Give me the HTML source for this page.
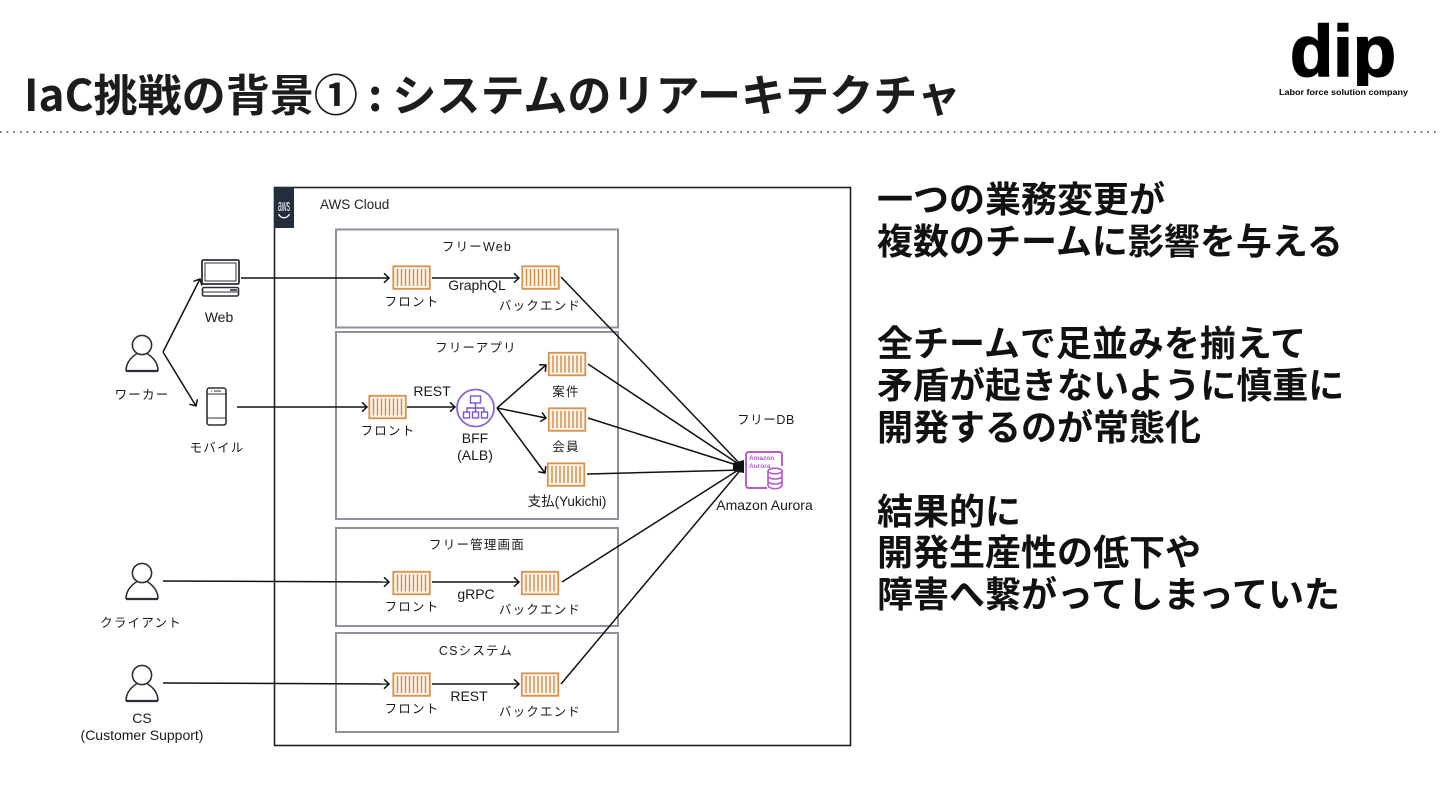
<!DOCTYPE html>
<html lang="ja"><head><meta charset="utf-8"><title>IaC挑戦の背景</title>
<style>
html,body{margin:0;padding:0;background:#fff;width:1440px;height:810px;overflow:hidden}
svg{display:block}
text{font-family:"Liberation Sans","Noto Sans CJK JP",sans-serif;fill:#1a1a1a}
.h{font-family:"Noto Sans CJK JP",sans-serif;font-weight:700;fill:#1c1c1c}
.b{font-family:"Noto Sans CJK JP",sans-serif;font-weight:700;font-size:36px;fill:#111}
.l{font-size:14px;text-anchor:middle}
.j{font-size:12.5px;text-anchor:middle;letter-spacing:1.2px;font-family:"Liberation Sans","Noto Sans CJK JP",sans-serif}
.ln{stroke:#111;stroke-width:1.5;fill:none}
.box{fill:#fff;stroke:#8e929b;stroke-width:2}
.ic{fill:none;stroke:#2b2f36;stroke-width:1.6}
.soft{filter:blur(.3px)}
</style></head><body>
<svg width="1440" height="810" viewBox="0 0 1440 810" xmlns="http://www.w3.org/2000/svg">
<defs>
<g id="c">
<rect x="0.8" y="0.8" width="36.5" height="22.5" fill="#fdf4e8" stroke="#d8924f" stroke-width="1.8"/>
<path d="M5 3.500V20.500M9 3.500V20.500M13 3.500V20.500M17 3.500V20.500M21 3.500V20.500M25 3.500V20.500M29 3.500V20.500M33 3.500V20.500" stroke="#d08a4a" stroke-width="1.400"/>
</g>
<g id="p">
<circle cx="0" cy="-17" r="9.600" class="ic"/>
<path d="M-16 9C-16 -1 -9 -6 -5 -8.500M5 -8.500C9 -6 16 -1 16 9" class="ic"/>
<path d="M-16 9H16" stroke="#2b2f36" stroke-width="2.200"/>
</g>
<marker id="a" markerWidth="11" markerHeight="11" refX="8.500" refY="5.500" orient="auto" markerUnits="userSpaceOnUse">
<path d="M3.500 0.800L8.500 5.500L3.500 10.200" fill="none" stroke="#111" stroke-width="1.500"/>
</marker>
<clipPath id="dipclip"><rect x="1280" y="10" width="130" height="76"/></clipPath>
</defs>

<text class="h" x="24" y="111" font-size="44" textLength="937" lengthAdjust="spacingAndGlyphs">IaC挑戦の背景① : システムのリアーキテクチャ</text>
<line x1="0" y1="132" x2="1440" y2="132" stroke="#444" stroke-width="1.6" stroke-dasharray="1.600 5.070"/>

<g clip-path="url(#dipclip)">
<text x="1290" y="76" font-size="72" font-weight="700" stroke="#000" stroke-width="1.500" textLength="106" lengthAdjust="spacingAndGlyphs" style="fill:#000">dip</text>
</g>
<text x="1279" y="95" font-size="8.300" font-weight="700" textLength="129" lengthAdjust="spacingAndGlyphs" style="fill:#000">Labor force solution company</text>

<g class="soft">
<!-- cloud -->
<rect x="274.500" y="187.500" width="576" height="558" fill="#fff" stroke="#222" stroke-width="1.600"/>
<rect x="274" y="187" width="20" height="41" fill="#232f3e"/>
<text x="0" y="0" font-size="11" text-anchor="middle" style="fill:#fff" transform="translate(284 211) scale(.62 1.500)">aws</text>
<path d="M278.500 214C281 219 287 219 289.500 214" stroke="#fff" stroke-width="1.300" fill="none"/>
<text x="320" y="209" font-size="13.500" style="fill:#222">AWS Cloud</text>

<rect class="box" x="336" y="229.500" width="282" height="98"/>
<rect class="box" x="336" y="332" width="282" height="187"/>
<rect class="box" x="336" y="528" width="282" height="98"/>
<rect class="box" x="336" y="633" width="282" height="99"/>

<text class="j" x="477" y="251">フリーWeb</text>
<text class="j" x="476" y="352">フリーアプリ</text>
<text class="j" x="477" y="549">フリー管理画面</text>
<text class="j" x="476" y="655">CSシステム</text>

<!-- lines -->
<g class="ln">
<path d="M163 352L200 279" marker-end="url(#a)"/>
<path d="M163 352L196 406" marker-end="url(#a)"/>
<path d="M241 278H389" marker-end="url(#a)"/>
<path d="M237 407H367" marker-end="url(#a)"/>
<path d="M432 278H519" marker-end="url(#a)"/>
<path d="M407 407H455" marker-end="url(#a)"/>
<path d="M497 408L546 365" marker-end="url(#a)"/>
<path d="M497 408L546 418" marker-end="url(#a)"/>
<path d="M497 408L545 473" marker-end="url(#a)"/>
<path d="M163 581L389 582" marker-end="url(#a)"/>
<path d="M163 683L389 684" marker-end="url(#a)"/>
<path d="M432 582H519" marker-end="url(#a)"/>
<path d="M432 684H519" marker-end="url(#a)"/>
<path d="M561 277L743 467"/>
<path d="M588 364L743 467"/>
<path d="M588 418L743 467"/>
<path d="M587 474L743 470"/>
<path d="M562 582L743 467"/>
<path d="M561 684L743 467"/>
</g>
<path d="M733 463L744 460L744 473L733 471Z" fill="#111"/>

<!-- containers -->
<use href="#c" x="392.500" y="265.500"/>
<use href="#c" x="521.500" y="265.500"/>
<use href="#c" x="368.500" y="395"/>
<use href="#c" x="548" y="352"/>
<use href="#c" x="548" y="407.500"/>
<use href="#c" x="547" y="462.500"/>
<use href="#c" x="392.500" y="571"/>
<use href="#c" x="521" y="571"/>
<use href="#c" x="392.500" y="672.500"/>
<use href="#c" x="521" y="672.500"/>

<text class="j" x="412" y="306">フロント</text>
<text class="j" x="540" y="310">バックエンド</text>
<text class="l" x="477" y="290">GraphQL</text>
<text class="j" x="388" y="435">フロント</text>
<text class="l" x="432" y="396">REST</text>
<text class="l" x="475" y="443">BFF</text>
<text class="l" x="475" y="460">(ALB)</text>
<text class="j" x="566" y="396">案件</text>
<text class="j" x="566" y="451">会員</text>
<text class="j" x="567" y="506" style="letter-spacing:0;font-size:13.500px">支払(Yukichi)</text>
<text class="j" x="412" y="611">フロント</text>
<text class="j" x="540" y="614">バックエンド</text>
<text class="l" x="476" y="599">gRPC</text>
<text class="j" x="412" y="713">フロント</text>
<text class="j" x="540" y="716">バックエンド</text>
<text class="l" x="469" y="701">REST</text>

<!-- BFF -->
<circle cx="475.500" cy="408" r="18.500" fill="#fff" stroke="#8a63d8" stroke-width="1.800"/>
<g fill="none" stroke="#7c55d0" stroke-width="1.400">
<rect x="470.500" y="396" width="10" height="7"/>
<path d="M475.500 403V408M467 412V408H484V412M475.500 408V412"/>
<rect x="463.500" y="412" width="6" height="6"/>
<rect x="472.500" y="412" width="6" height="6"/>
<rect x="481.500" y="412" width="6" height="6"/>
</g>

<!-- Aurora -->
<text class="j" x="766" y="424" style="letter-spacing:.6px">フリーDB</text>
<path d="M767 488H749Q746 488 746 485V455Q746 452 749 452H779Q782 452 782 455V466" fill="#fff" stroke="#b25cc9" stroke-width="1.900"/>
<text x="749" y="460" font-size="6.500" font-weight="700" style="fill:#b25cc9">Amazon</text>
<text x="749" y="468" font-size="6.500" font-weight="700" style="fill:#b25cc9">Aurora</text>
<g fill="#fff" stroke="#b25cc9" stroke-width="1.600">
<path d="M768 471V485C768 490 782 490 782 485V471"/>
<ellipse cx="775" cy="471" rx="7" ry="2.800"/>
<path d="M768 476C768 480 782 480 782 476M768 481C768 485 782 485 782 481" fill="none"/>
</g>
<text class="l" x="764.500" y="510">Amazon Aurora</text>

<!-- users -->
<use href="#p" x="142" y="362"/>
<text class="j" x="142" y="399">ワーカー</text>
<use href="#p" x="142" y="590"/>
<text class="j" x="141" y="627">クライアント</text>
<use href="#p" x="142" y="692"/>
<text class="l" x="142" y="723">CS</text>
<text class="l" x="142" y="740">(Customer Support)</text>

<!-- Web device -->
<g class="ic">
<rect x="202" y="260" width="37" height="24" rx="1.500" stroke-width="1.800"/>
<rect x="205" y="263" width="31" height="18" stroke-width="1"/>
<rect x="202.500" y="287.500" width="36" height="8.500" rx="1.500"/>
</g>
<path d="M202 292H239" stroke="#2b2f36" stroke-width="1"/>
<path d="M230 290H237" stroke="#2b2f36" stroke-width="1.600"/>
<text class="l" x="219" y="322">Web</text>

<!-- Mobile -->
<g class="ic">
<rect x="207" y="388" width="19" height="37" rx="2.500"/>
<path d="M207 394H226M207 418H226" stroke-width="1"/>
<path d="M211 391H212M214 391H221" stroke-width="1"/>
</g>
<text class="j" x="217" y="452">モバイル</text>
</g>

<!-- right text -->
<text class="b" x="877" y="212">一つの業務変更が</text>
<text class="b" x="877" y="254">複数のチームに影響を与える</text>
<text class="b" x="877" y="356">全チームで足並みを揃えて</text>
<text class="b" x="877" y="398">矛盾が起きないように慎重に</text>
<text class="b" x="877" y="440">開発するのが常態化</text>
<text class="b" x="877" y="524">結果的に</text>
<text class="b" x="877" y="565">開発生産性の低下や</text>
<text class="b" x="877" y="607">障害へ繋がってしまっていた</text>
</svg>
</body></html>
